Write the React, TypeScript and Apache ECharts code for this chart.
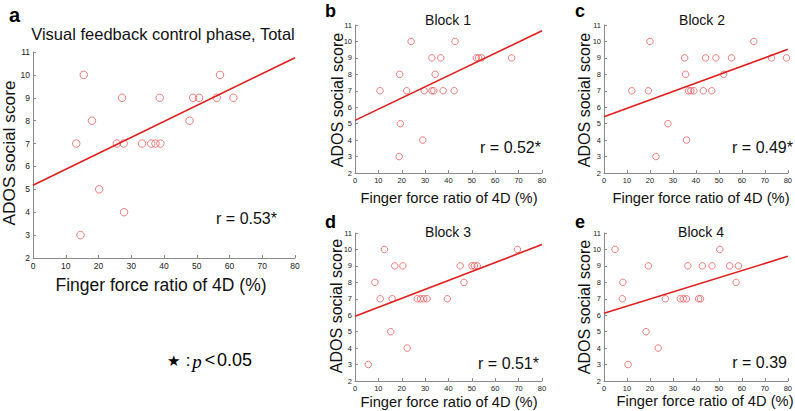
import React, { useEffect, useRef } from "react";
import * as echarts from "echarts";

// ---- data ----
const totalX = [13.2, 15.5, 18.0, 20.2, 27.2, 25.6, 27.7, 33.3, 36.1, 37.4, 38.9, 38.7, 47.8, 48.9, 50.7, 56.1, 57.1, 61.2, 14.5, 27.8];
const totalY = [7, 10, 8, 5, 9, 7, 7, 7, 7, 7, 7, 9, 8, 9, 9, 9, 10, 9, 3, 4];
const block1X = [10.7, 19.1, 22.1, 24.0, 19.4, 18.9, 29.0, 29.6, 32.9, 32.9, 33.7, 34.3, 36.7, 37.7, 42.4, 42.8, 51.9, 52.9, 54.1, 67.0];
const block1Y = [7, 8, 7, 10, 5, 3, 4, 7, 9, 7, 7, 8, 9, 7, 7, 10, 9, 9, 9, 9];
const block2X = [12.1, 19.3, 20.0, 22.6, 27.8, 35.1, 35.5, 35.9, 36.8, 37.8, 39.1, 43.2, 44.2, 46.9, 48.7, 52.1, 55.5, 65.2, 72.9, 79.4];
const block2Y = [7, 7, 10, 3, 5, 9, 8, 4, 7, 7, 7, 7, 9, 7, 9, 8, 9, 10, 9, 9];
const block3X = [5.7, 8.5, 10.8, 12.6, 15.3, 15.9, 17.0, 20.5, 22.3, 26.6, 28.0, 29.4, 30.8, 39.5, 45.0, 46.6, 50.0, 51.1, 52.3, 69.5];
const block3Y = [3, 8, 7, 10, 5, 7, 9, 9, 4, 7, 7, 7, 7, 7, 9, 8, 9, 9, 9, 10];
const block4X = [4.8, 8.0, 8.2, 10.5, 18.3, 19.3, 23.6, 26.7, 33.2, 34.5, 35.9, 36.5, 41.2, 42.0, 42.8, 47.0, 50.4, 54.7, 57.5, 58.5];
const block4Y = [10, 7, 8, 3, 5, 9, 4, 7, 7, 7, 7, 9, 7, 7, 9, 9, 10, 9, 8, 9];

// regression line endpoints at x = 0 and x = 80
const fitX = [0, 80];
const totalFit = [5.18, 10.75];
const block1Fit = [5.2, 10.65];
const block2Fit = [5.42, 9.52];
const block3Fit = [5.94, 10.3];
const block4Fit = [6.12, 9.58];

const panelLetters = ["a", "b", "c", "d", "e"];
const panelTitles = ["Visual feedback control phase, Total", "Block 1", "Block 2", "Block 3", "Block 4"];
const rLabels = ["r = 0.53*", "r = 0.52*", "r = 0.49*", "r = 0.51*", "r = 0.39"];
const xAxisTitle = "Finger force ratio of 4D (%)";
const yAxisTitle = "ADOS social score";

const xMin = 0, xMax = 80, xStep = 10;
const yMin = 2, yMax = 11, yStep = 1;

const FONT = "'Liberation Sans', Arial, Helvetica, sans-serif";
const MARK = "#ea4a4a";
const LINE = "#e01e1e";

export default function App() {
  const ref = useRef<HTMLDivElement>(null);

  useEffect(() => {
    if (!ref.current) return;
    const chart = echarts.init(ref.current, undefined, { renderer: "svg" });

    const xs = [totalX, block1X, block2X, block3X, block4X];
    const ys = [totalY, block1Y, block2Y, block3Y, block4Y];
    const fits = [totalFit, block1Fit, block2Fit, block3Fit, block4Fit];

    const grids = [
      { left: 33, top: 52, width: 262, height: 206 },
      { left: 355, top: 25, width: 187, height: 148 },
      { left: 604, top: 25, width: 188, height: 148 },
      { left: 355, top: 233, width: 187, height: 148 },
      { left: 604, top: 233, width: 188, height: 148 },
    ];

    const axisCommon = {
      axisLine: { show: true, lineStyle: { color: "#8a8a8a", width: 1 } },
      axisTick: { show: true, inside: true, length: 3, lineStyle: { color: "#8a8a8a" } },
      splitLine: { show: false },
      axisLabel: { fontSize: 8, color: "#222", fontFamily: FONT },
    };

    const xAxes = grids.map((_, i) => ({
      type: "value",
      gridIndex: i,
      min: xMin,
      max: xMax,
      interval: xStep,
      ...axisCommon,
      axisLabel: { ...axisCommon.axisLabel, fontSize: i === 0 ? 8.5 : 7.5, margin: 3 },
    }));
    const yAxes = grids.map((_, i) => ({
      type: "value",
      gridIndex: i,
      min: yMin,
      max: yMax,
      interval: yStep,
      ...axisCommon,
      axisLabel: { ...axisCommon.axisLabel, fontSize: i === 0 ? 8.5 : 7.5, margin: 3 },
    }));

    const series: any[] = [];
    grids.forEach((_, i) => {
      series.push({
        type: "scatter",
        xAxisIndex: i,
        yAxisIndex: i,
        symbol: "circle",
        symbolSize: i === 0 ? 7.5 : 6.5,
        itemStyle: { color: "rgba(0,0,0,0)", borderColor: MARK, borderWidth: 0.9 },
        data: xs[i].map((x, k) => [x, ys[i][k]]),
        z: 3,
      });
      series.push({
        type: "line",
        xAxisIndex: i,
        yAxisIndex: i,
        showSymbol: false,
        symbol: "none",
        lineStyle: { color: LINE, width: 1.6 },
        data: fitX.map((x, k) => [x, fits[i][k]]),
        z: 4,
      });
    });

    const txt = (text: string, x: number, y: number, size: number, opts: any = {}) => ({
      type: "text",
      x,
      y,
      rotation: opts.rotation || 0,
      style: {
        text,
        x: 0,
        y: 0,
        fill: opts.color || "#111",
        fontSize: size,
        fontFamily: opts.family || FONT,
        fontWeight: opts.weight || "normal",
        fontStyle: opts.style || "normal",
        textAlign: opts.align || "center",
        textVerticalAlign: opts.valign || "middle",
      },
    });

    const letterPos = [[9, 15], [325, 11], [575, 11], [325, 222], [575, 222]];
    const titlePos = [[163, 34], [448, 20], [702, 20], [448, 232], [701, 232]];
    const titleSize = [16.5, 14, 14, 14, 14];
    const rPos = [[277, 218], [541, 147], [793, 147], [539, 363], [787, 362]];
    const xlabPos = [[161, 285], [449, 198], [701, 198], [449, 402], [705, 401]];
    const xlabSize = [17.5, 14.7, 14.7, 14.7, 14.7];
    const ylabPos = [[9, 153], [337, 100], [584, 100], [336, 306], [584, 307]];
    const ylabSize = [17.3, 16, 16, 16, 16];

    const graphics: any[] = [];
    for (let i = 0; i < 5; i++) {
      graphics.push(txt(panelLetters[i], letterPos[i][0], letterPos[i][1], i === 0 ? 20 : 18, { weight: "bold", align: "left", color: "#000" }));
      graphics.push(txt(panelTitles[i], titlePos[i][0], titlePos[i][1], titleSize[i]));
      graphics.push(txt(rLabels[i], rPos[i][0], rPos[i][1], 16, { align: "right" }));
      graphics.push(txt(xAxisTitle, xlabPos[i][0], xlabPos[i][1], xlabSize[i]));
      graphics.push(txt(yAxisTitle, ylabPos[i][0], ylabPos[i][1], ylabSize[i], { rotation: Math.PI / 2 }));
    }
    // footnote
    graphics.push(txt("★", 173, 360, 15, { color: "#000" }));
    graphics.push(txt(":", 188, 360, 17, { color: "#000" }));
    graphics.push(txt("p", 197, 361, 19, { family: "'Liberation Serif', 'Times New Roman', serif", style: "italic", color: "#000" }));
    graphics.push(txt("<", 210, 360, 18, { color: "#000" }));
    graphics.push(txt("0.05", 217, 360, 18, { align: "left", color: "#000" }));

    chart.setOption({
      animation: false,
      backgroundColor: "#fff",
      grid: grids.map((g) => ({ ...g, containLabel: false })),
      xAxis: xAxes,
      yAxis: yAxes,
      series,
      graphic: graphics,
    });

    return () => chart.dispose();
  }, []);

  return <div ref={ref} style={{ position: "absolute", left: 0, top: 0, width: 795, height: 411 }} />;
}
